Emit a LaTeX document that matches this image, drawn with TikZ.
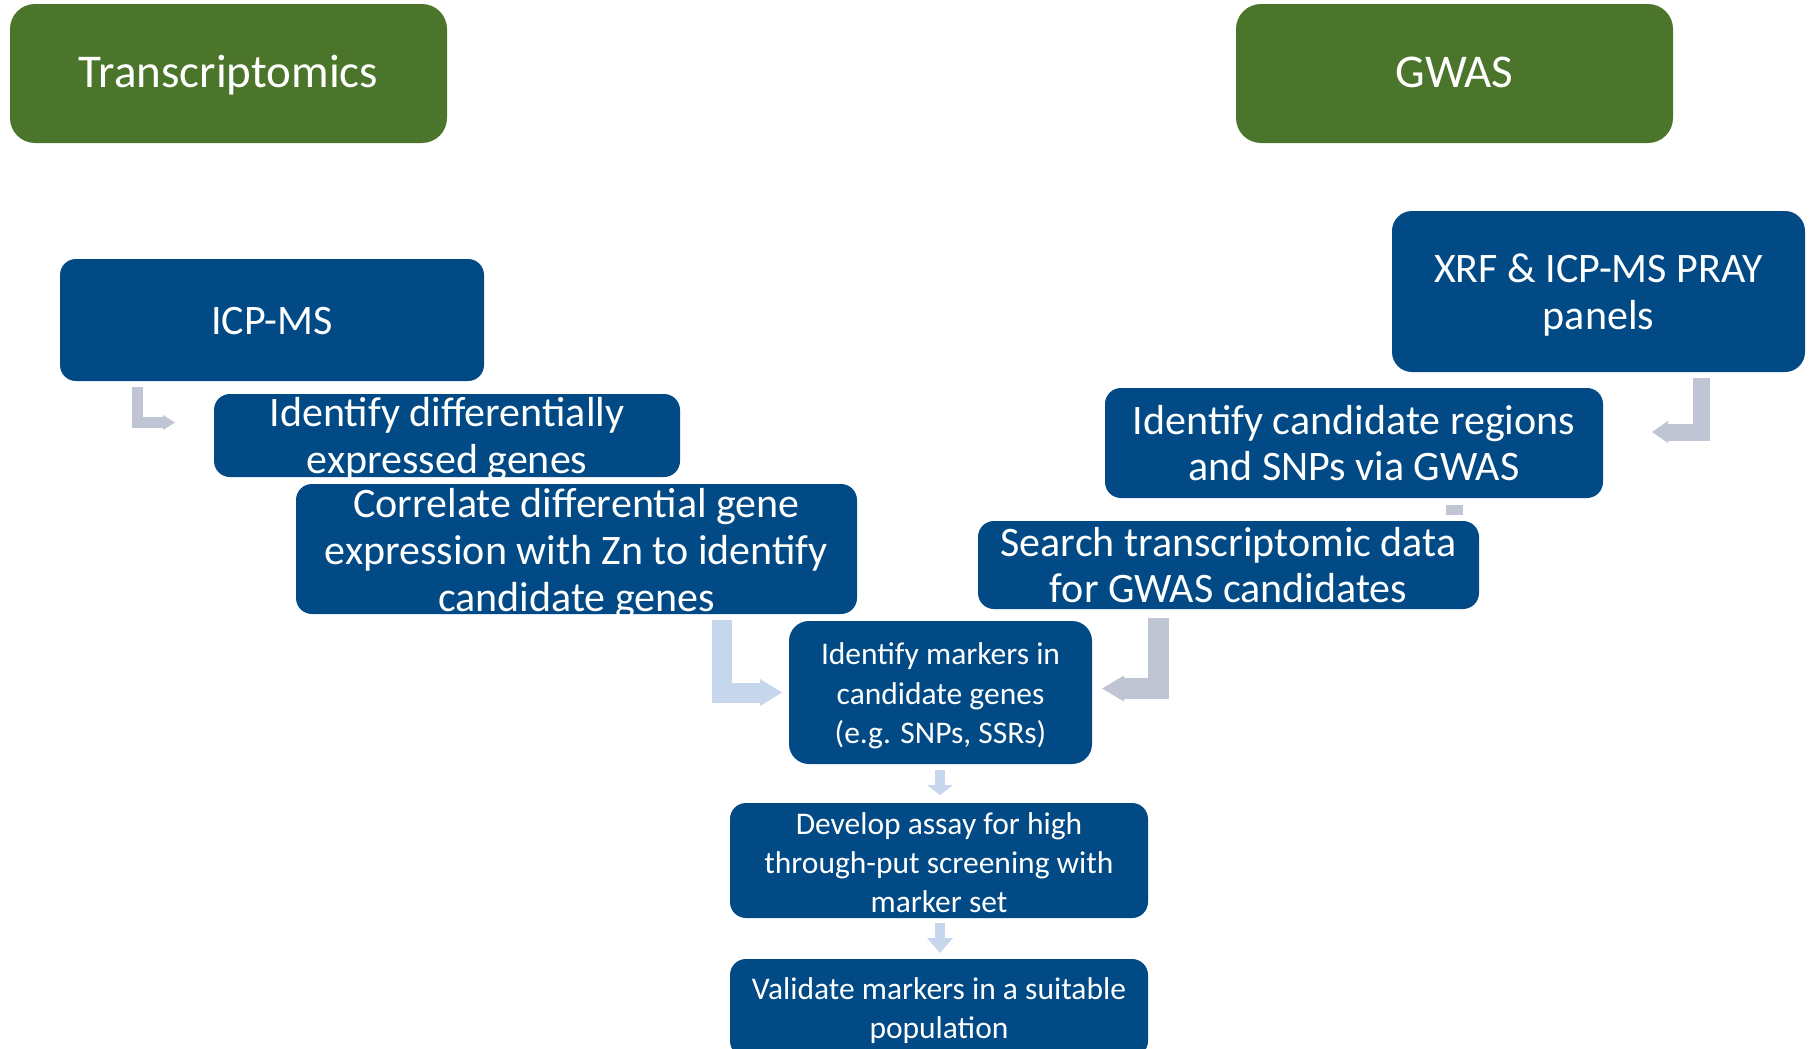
\documentclass[tikz,border=0pt]{standalone}
\usepackage{fontspec}
\setmainfont{Carlito}
\usetikzlibrary{arrows.meta}
\definecolor{boxblue}{RGB}{1,74,133}
\definecolor{boxgreen}{RGB}{74,117,42}
\definecolor{arrowgrey}{RGB}{191,197,211}
\definecolor{arrowblue}{RGB}{198,214,236}
\begin{document}
\begin{tikzpicture}[x=0.5pt,y=-0.5pt,
  basebox/.style={rectangle, inner sep=0pt},
  titlebox/.style={basebox, fill=boxgreen, rounded corners=12.5pt},
  bluebox/.style={basebox, fill=boxblue, rounded corners=8pt},
  txt/.style={inner sep=0pt, text=white, align=center},
  titletxt/.style={txt, font=\fontsize{23.5}{28}\selectfont, text height=15pt, text depth=0pt},
  bigtxt/.style={txt, font=\fontsize{21}{23.4}\selectfont},
  smalltxt/.style={txt, font=\fontsize{15.75}{19.6}\selectfont},
  elbowarrow/.style={line join=miter, line cap=butt},
]
\useasboundingbox (0,0) rectangle (1812,1049);
% title boxes
\node[titlebox, minimum width=218.5pt, minimum height=69.5pt] (trans) at (228.5,73.5) {};
\node[titletxt, yshift=0.5pt] (trans-t) at (trans.center) {Transcriptomics};
\node[titlebox, minimum width=218.5pt, minimum height=69.5pt] (gwas) at (1454.5,73.5) {};
\node[titletxt, yshift=0.5pt] (gwas-t) at (gwas.center) {GWAS};
% left column
\node[bluebox, minimum width=212pt, minimum height=61pt] (icp) at (272,320) {};
\node[bigtxt, yshift=-0.5pt] (icp-t) at (icp.center) {ICP-MS};
\node[bluebox, minimum width=233pt, minimum height=41.5pt] (diff) at (447,435.5) {};
\node[bigtxt, yshift=-1.7pt] (diff-t) at (diff.center) {Identify differentially\\expressed genes};
\node[bluebox, minimum width=280.5pt, minimum height=65pt] (corr) at (576.5,549) {};
\node[bigtxt, yshift=-2.3pt] (corr-t) at (corr.center) {Correlate differential gene\\expression with Zn to identify\\candidate genes};
% right column
\node[bluebox, rounded corners=10pt, minimum width=206.5pt, minimum height=80.5pt] (xrf) at (1598.5,291.5) {};
\node[bigtxt, yshift=-1.7pt] (xrf-t) at (xrf.center) {XRF \& ICP-MS PRAY\\panels};
\node[bluebox, minimum width=249pt, minimum height=55pt] (cand) at (1354,443) {};
\node[bigtxt] (cand-t) at (cand.center) {Identify candidate regions\\and SNPs via GWAS};
\node[bluebox, minimum width=250.5pt, minimum height=44pt] (search) at (1228.5,565) {};
\node[bigtxt] (search-t) at (search.center) {Search transcriptomic data\\for GWAS candidates};
% centre column
\node[bluebox, rounded corners=10pt, minimum width=151.5pt, minimum height=71.5pt] (markers) at (940.5,692.5) {};
\node[smalltxt, yshift=-1.7pt] (markers-t) at (markers.center) {Identify markers in\\candidate genes\\(e.g. SNPs, SSRs)};
\node[bluebox, minimum width=209pt, minimum height=57.5pt] (develop) at (939,860.5) {};
\node[smalltxt, yshift=-1.2pt] (develop-t) at (develop.center) {Develop assay for high\\through-put screening with\\marker set};
\node[bluebox, minimum width=209pt, minimum height=49pt] (validate) at (939,1008) {};
\node[smalltxt, yshift=-1.4pt] (validate-t) at (validate.center) {Validate markers in a suitable\\population};
% arrows
\coordinate (a1s) at (137.5,387);
\coordinate (a1e) at (175,422.5);
\draw[elbowarrow, arrowgrey, line width=5.5pt, -{Triangle[length=6pt,width=7.5pt,line width=0pt]}] (a1s) |- (a1e);
\coordinate (a2s) at (1701,378);
\coordinate (a2e) at (1652,432);
\draw[elbowarrow, arrowgrey, line width=8.5pt, -{Triangle[length=8pt,width=11pt,line width=0pt]}] (a2s) |- (a2e);
\coordinate (a3s) at (722,620);
\coordinate (a3e) at (782,692.5);
\draw[elbowarrow, arrowblue, line width=10pt, -{Triangle[length=11pt,width=13.5pt,line width=0pt]}] (a3s) |- (a3e);
\coordinate (a4s) at (1158,618);
\coordinate (a4e) at (1102,688.5);
\draw[elbowarrow, arrowgrey, line width=10.5pt, -{Triangle[length=11pt,width=13pt,line width=0pt]}] (a4s) |- (a4e);
\coordinate (a5s) at (940,770);
\coordinate (a5e) at (940,795);
\draw[elbowarrow, arrowblue, line width=5pt, -{Triangle[length=5pt,width=13pt,line width=0pt]}] (a5s) -- (a5e);
\coordinate (a6s) at (940,923);
\coordinate (a6e) at (940,953);
\draw[elbowarrow, arrowblue, line width=5pt, -{Triangle[length=7.5pt,width=13pt,line width=0pt]}] (a6s) -- (a6e);
% small stub between candidate regions and search
\fill[arrowgrey] (1446,505) rectangle (1463,515);
\end{tikzpicture}
\end{document}
